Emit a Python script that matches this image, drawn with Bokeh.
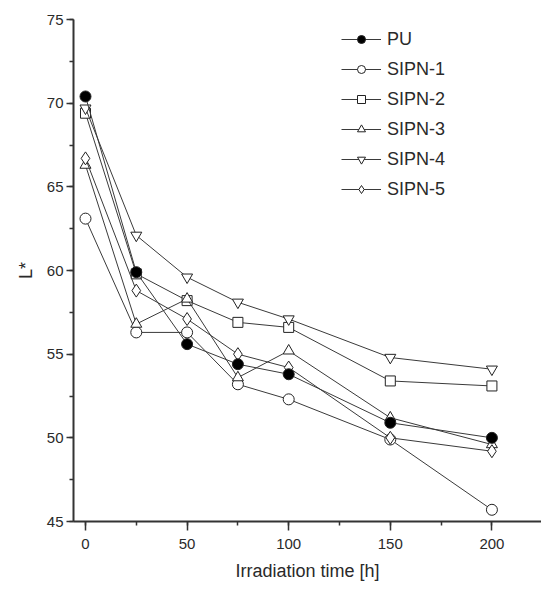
from bokeh.plotting import figure
from bokeh.models import Legend, LegendItem, SingleIntervalTicker, Range1d
from bokeh.embed import file_html
from bokeh.resources import INLINE

time_h = [0, 25, 50, 75, 100, 150, 200]
pu = [70.4, 59.9, 55.6, 54.4, 53.8, 50.9, 50.0]
sipn1 = [63.1, 56.3, 56.3, 53.2, 52.3, 49.9, 45.7]
sipn2 = [69.4, 59.8, 58.2, 56.9, 56.6, 53.4, 53.1]
sipn3 = [66.3, 56.8, 58.3, 53.6, 55.2, 51.2, 49.6]
sipn4 = [69.7, 62.1, 59.6, 58.1, 57.1, 54.8, 54.1]
sipn5 = [66.7, 58.8, 57.1, 55.0, 54.2, 50.0, 49.2]

names = ["PU", "SIPN-1", "SIPN-2", "SIPN-3", "SIPN-4", "SIPN-5"]
series = [pu, sipn1, sipn2, sipn3, sipn4, sipn5]
markers = ["circle", "circle", "square", "triangle", "inverted_triangle", "diamond"]
fills = ["black", "white", "white", "white", "white", "white"]
sizes = [11, 11, 10, 11, 11, 13]

FONT = "Liberation Sans"
TXT = "#2a2a2a"
LINE = "#3a3a3a"

p = figure(width=541, height=590, output_backend="svg", toolbar_location=None,
           x_range=Range1d(-5.9, 224.4), y_range=Range1d(45, 75),
           min_border_left=73, min_border_top=19, min_border_bottom=69, min_border_right=0)
p.outline_line_color = None
p.xgrid.visible = False
p.ygrid.visible = False
p.background_fill_color = "white"

p.xaxis.ticker = SingleIntervalTicker(interval=50, num_minor_ticks=2)
p.yaxis.ticker = SingleIntervalTicker(interval=5, num_minor_ticks=2)
for ax in (p.xaxis[0], p.yaxis[0]):
    ax.axis_line_color = "#333333"
    ax.axis_line_width = 2
    ax.major_tick_line_color = "#333333"
    ax.minor_tick_line_color = "#333333"
    ax.major_tick_line_width = 1.5
    ax.minor_tick_line_width = 1.5
    ax.major_tick_in = 0
    ax.minor_tick_in = 0
    ax.minor_tick_out = 4
    ax.major_label_text_font = FONT
    ax.major_label_text_font_size = "15px"
    ax.major_label_text_color = TXT
    ax.axis_label_text_font = FONT
    ax.axis_label_text_font_size = "18px"
    ax.axis_label_text_font_style = "normal"
    ax.axis_label_text_color = TXT

p.xaxis.major_tick_out = 9
p.yaxis.major_tick_out = 7
p.xaxis.major_label_standoff = 8
p.yaxis.major_label_standoff = 3
p.xaxis.axis_label = "Irradiation time [h]"
p.yaxis.axis_label = "L*"
p.xaxis.axis_label_standoff = 9
p.yaxis.axis_label_standoff = 8

items = []
order = [1, 2, 3, 4, 5, 0]
rend = {}
for i in order:
    ln = p.line(time_h, series[i], line_color=LINE, line_width=1)
    sc = p.scatter(time_h, series[i], marker=markers[i], size=sizes[i],
                   fill_color=fills[i], line_color="#222222", line_width=1)
    rend[i] = [ln, sc]
for i in range(6):
    items.append(LegendItem(label=names[i], renderers=rend[i]))

legend = Legend(items=items, location=(268, 320), padding=0, margin=0,
                border_line_color=None, background_fill_alpha=0,
                glyph_width=40, glyph_height=20, label_height=24,
                spacing=6, label_standoff=6,
                label_text_font=FONT, label_text_font_size="18px",
                label_text_color=TXT)
p.add_layout(legend, "center")

open("out.html", "w").write(file_html(p, INLINE))
